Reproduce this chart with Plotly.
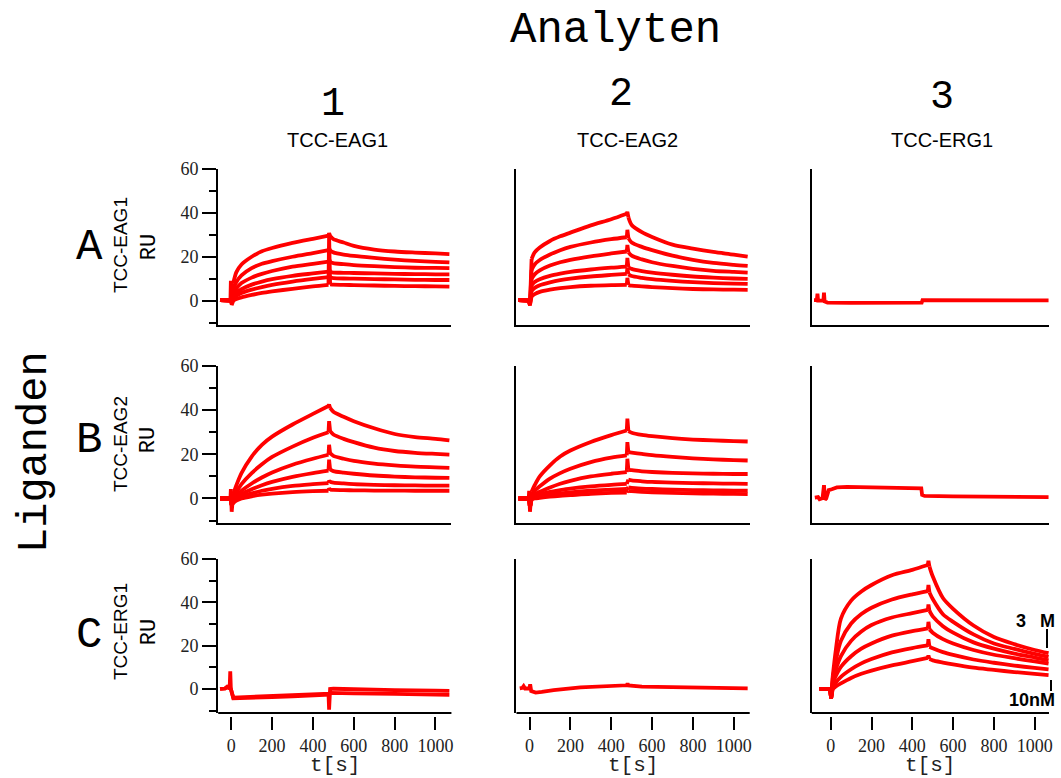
import plotly.graph_objects as go

# ---------------- data ----------------
# shared time grid (s) for the kinetic panels
T = [-55, -4, -2, 2, 10, 25, 50, 100, 150, 200, 300, 400, 476, 479, 484,
     500, 550, 600, 700, 800, 900, 1000, 1068]

A1 = [
    [0.3, 0.3, 0, -1, 8, 13, 16.5, 20, 22.5, 24, 26.3, 28.2, 29.6, 30.8, 29.5, 28, 26.5, 25, 23.3, 22.4, 21.9, 21.5, 21.2],
    [0.3, 0.3, 0, -1, 5, 8.5, 11.5, 14.8, 16.8, 18, 20, 21.7, 23, 24, 22.8, 22, 21, 20.4, 19.5, 18.7, 18.1, 17.7, 17.4],
    [0.3, 0.3, 0, -1, 3, 5.5, 8, 10.5, 12.2, 13.5, 15.5, 16.8, 17.8, 19, 17.6, 17.1, 16.6, 16.2, 15.7, 15.3, 15.0, 14.9, 14.8],
    [0.3, 0.3, 0, -1, 2, 3.5, 5.2, 7.3, 8.7, 9.8, 11.3, 12.4, 13.2, 14.5, 13.0, 12.8, 12.7, 12.6, 12.4, 12.2, 12.1, 12.0, 12.0],
    [0.3, 0.3, 0, -1, 1, 2.2, 3.5, 5, 6.2, 7.2, 8.7, 9.9, 10.7, 11.5, 10.5, 10.3, 10.1, 10.0, 9.8, 9.7, 9.5, 9.4, 9.4],
    [0.3, 0.3, 9, -2, 0, 0.7, 1.5, 2.6, 3.5, 4.2, 5.4, 6.5, 7.2, 30, 7.4, 7.3, 7.2, 7.1, 6.9, 6.7, 6.6, 6.5, 6.4],
]
A2 = [
    [0.3, 0.3, 0, -2, 19, 22, 24.2, 27.2, 29.3, 31, 34.3, 37.1, 39.6, 40.5, 38, 34.5, 31.2, 29, 25.5, 23.7, 22.2, 21, 20.1],
    [0.3, 0.3, 0, -2, 14, 16.5, 18.5, 21, 23, 24.5, 26.5, 28, 28.9, 32.3, 28.5, 26.5, 24.5, 23, 20.5, 18.6, 17.2, 16.3, 15.8],
    [0.3, 0.3, 0, -2, 10, 12, 13.8, 16, 17.5, 18.6, 20.2, 21.5, 22.4, 25.4, 22, 20.5, 18.8, 17.5, 15.8, 14.5, 13.6, 13.1, 12.8],
    [0.3, 0.3, 0, -2, 7, 8.5, 9.8, 11.3, 12.3, 13.1, 14.2, 15, 15.5, 19.5, 15.2, 14.5, 13.5, 12.8, 11.8, 11, 10.5, 10.1, 9.9],
    [0.3, 0.3, 0, -2, 4.5, 5.8, 7, 8.3, 9.3, 10, 11, 11.7, 12.2, 15, 12, 11.2, 10.4, 9.8, 9, 8.4, 8, 7.8, 7.6],
    [0.3, 0.3, 0, -2, 2, 3, 4, 5, 5.7, 6.2, 6.8, 7.1, 7.2, 10.4, 7.1, 6.8, 6.5, 6.2, 5.7, 5.3, 5.1, 5, 4.9],
]
B1 = [
    [0, 0, 4.3, -6, 2, 6, 11.5, 19, 24.3, 28, 33.5, 38.3, 41.9, 42.5, 41, 39.3, 37, 35, 31.8, 29.2, 27.8, 27, 26.3],
    [0, 0, 0, -3, 1, 3, 6.5, 11.5, 15.5, 18.8, 23.5, 27.5, 30, 35, 30.5, 29, 27, 25.5, 23, 21.5, 20.7, 20.2, 19.9],
    [0, 0, 0, -3, 0, 1.5, 3.5, 6.8, 9.5, 11.8, 15.3, 18, 19.8, 24.3, 20.5, 19.3, 18, 17, 15.8, 15, 14.4, 14.1, 13.9],
    [0, 0, 0, -3, -1, 0.5, 2, 4.2, 6, 7.5, 9.8, 11.5, 12.6, 17.6, 13.2, 12.4, 11.7, 11.2, 10.4, 9.9, 9.6, 9.4, 9.3],
    [0, 0, 0, -3, -1.5, -0.5, 0.8, 2.3, 3.5, 4.4, 5.7, 6.5, 7, 8, 7.5, 7.2, 6.8, 6.5, 6.2, 6, 5.9, 5.8, 5.8],
    [0, 0, 0, -3, -2, -1, 0, 1, 1.7, 2.2, 2.9, 3.3, 3.5, 4.5, 4, 3.9, 3.8, 3.7, 3.6, 3.6, 3.5, 3.5, 3.5],
]
B2 = [
    [0, 0, 3.5, -6, 3, 6, 10, 15, 19, 21.7, 25.6, 28.7, 30.8, 36.2, 30.5, 29.8, 28.8, 28.2, 27.3, 26.7, 26.3, 26, 25.8],
    [0, 0, 0, -4, 2, 3.5, 5.5, 9, 11.5, 13.5, 16.5, 18.5, 19.5, 25.5, 21, 20.8, 20.2, 19.6, 18.8, 18.2, 17.7, 17.4, 17.2],
    [0, 0, 0, -4, 1, 2, 3, 5, 6.7, 8, 10, 11.2, 11.9, 18, 13.1, 12.8, 12.3, 12, 11.6, 11.4, 11.2, 11.1, 11.1],
    [0, 0, 0, -4, 0.5, 1, 1.8, 3, 3.8, 4.5, 5.5, 6.2, 6.6, 8, 8.5, 8.2, 7.8, 7.5, 7.2, 7, 6.8, 6.7, 6.6],
    [0, 0, 0, -4, 0, 0.5, 1, 1.8, 2.3, 2.8, 3.5, 4, 4.3, 5, 5, 4.8, 4.5, 4.3, 4, 3.8, 3.7, 3.6, 3.5],
    [0, 0, 0, -4, -0.5, 0, 0.3, 0.8, 1.2, 1.5, 2.1, 2.5, 2.7, 3.5, 3.5, 3.3, 3, 2.8, 2.5, 2.3, 2.2, 2.1, 2],
]
C3 = [
    [0, 0, -1, -4.3, 6, 18, 32.5, 40.8, 45, 48, 52.5, 55, 57.2, 59.2, 56.5, 52, 42, 37, 29.3, 24, 20.7, 18, 16.5],
    [0, 0, -1, -4.3, 5, 13, 22.2, 30.2, 34.6, 37.5, 41.3, 43.7, 45.2, 48, 44.5, 41.5, 34.5, 31, 25.2, 21, 18.5, 16.2, 14.8],
    [0, 0, -1, -4.3, 3.5, 9, 15.2, 22.2, 26.5, 29.5, 33, 35, 36.5, 39, 36, 33.5, 29, 26, 21.5, 18.6, 16.3, 14.5, 13.2],
    [0, 0, -1, -4.3, 2.5, 6, 10.2, 15.1, 18.6, 21, 24.6, 26.7, 28, 31, 27.5, 26, 23, 21, 18, 15.8, 14.2, 12.7, 11.7],
    [0, 0, -1, -4.3, 1, 3, 5.6, 9.1, 11.8, 13.8, 16.9, 18.9, 20.1, 23, 19.5, 18.8, 17, 15.7, 13.6, 12.1, 10.8, 9.7, 9],
    [0, 0, -1, -4.3, 0, 1.2, 2.6, 5.1, 7, 8.5, 10.9, 12.8, 14.3, 15.5, 13.8, 13.2, 12.2, 11.3, 9.8, 8.8, 7.8, 7, 6.4],
]

T_A3 = [-82, -68, -65, -62, -36, -33, -30, -16, 100, 300, 446, 450, 700, 900, 1068]
A3 = [[0.2, 0.2, 3.2, 0, 0, 3.6, -0.4, -0.9, -1, -0.8, -0.9, 0.2, 0.1, 0.1, 0.1]]

T_B3 = [-78, -62, -55, -40, -33, -28, -22, -10, 5, 30, 80, 200, 350, 444, 448, 460, 600, 800, 1068]
B3 = [[0.4, 0.6, -0.3, 0.2, 6.0, -0.5, 0, 3.8, 4.2, 5.0, 5.3, 5.0, 4.8, 4.6, 1.6, 1.2, 1.0, 0.8, 0.6]]

T_C1 = [-55, -30, -20, -8, -5, -2, 10, 100, 200, 300, 400, 470, 476, 479, 484, 500, 600, 800, 1000, 1068]
C1 = [
    [0, 0.2, 1.0, 0.2, 8.2, 0, -4.0, -3.7, -3.3, -3.0, -2.6, -2.3, -2.2, -9.6, 0, 0.1, -0.2, -0.5, -0.8, -0.9],
    [0, 0.2, 1.0, 0.2, 0.5, 0, -4.3, -4.2, -3.8, -3.4, -3.0, -2.7, -2.6, -2.6, -1.8, -1.8, -2.0, -2.3, -2.6, -2.7],
]

T_C2 = [-48, -35, -29, -22, 0, 3, 8, 30, 60, 118, 249, 400, 476, 480, 484, 550, 789, 1068]
C2 = [[0.3, 0.5, 1.3, 0.2, 0.3, 2.2, -1.0, -1.7, -1.4, -0.5, 0.7, 1.3, 1.7, 2.5, 1.6, 1.1, 0.6, 0.3]]

X_TICKS = [0, 200, 400, 600, 800, 1000]
Y_TICKS = [0, 20, 40, 60]
COL_NUMS = ["1", "2", "3"]
ANALYTES = ["TCC-EAG1", "TCC-EAG2", "TCC-ERG1"]
ROW_LETTERS = ["A", "B", "C"]
LIGANDS = ["TCC-EAG1", "TCC-EAG2", "TCC-ERG1"]

PANELS = {
    (0, 0): (T, A1), (0, 1): (T, A2), (0, 2): (T_A3, A3),
    (1, 0): (T, B1), (1, 1): (T, B2), (1, 2): (T_B3, B3),
    (2, 0): (T_C1, C1), (2, 1): (T_C2, C2), (2, 2): (T, C3),
}
KINETIC = {(0, 0), (0, 1), (1, 0), (1, 1), (2, 2)}
# segments of the shared grid: (start index, end index, line shape)
SEGMENTS = [(0, 4, "linear"), (4, 12, "spline"), (12, 14, "linear"), (14, 22, "spline")]

# ---------------- layout geometry ----------------
W, H = 1061, 778
COL_PX = [(218, 451), (516, 749), (811, 1048)]
ROW_PX = [(169, 325), (366, 523), (559, 713)]
X_RANGES = [[-64, 1078], [-64, 1078], [-93, 1070]]
Y_RANGE = [-11.1, 60]

MONO = "Liberation Mono, Courier New, monospace"
SANS = "Liberation Sans, Arial, sans-serif"
SERIF = "Liberation Serif, Times New Roman, serif"
RED = "#ff0000"


def px(x):
    return (x / 0.9953) / W


def py(y):
    yd = (y - 10) * H / 768.0
    return 1 - yd / H


fig = go.Figure()
layout = dict(
    width=W, height=H, margin=dict(l=0, r=0, t=0, b=0),
    paper_bgcolor="white", plot_bgcolor="white", showlegend=False,
)
shapes = []
annotations = []


def add_line(xs, ys, sx, shape="linear"):
    fig.add_trace(go.Scatter(
        x=xs, y=ys, mode="lines", xaxis="x" + sx, yaxis="y" + sx,
        line=dict(color=RED, width=3.8, shape=shape, smoothing=0.8),
        hoverinfo="skip"))


for r in range(3):
    for c in range(3):
        k = r * 3 + c + 1
        sx = "" if k == 1 else str(k)
        tt, curves = PANELS[(r, c)]
        for vals in curves:
            if (r, c) in KINETIC:
                for i0, i1, shp in SEGMENTS:
                    add_line(tt[i0:i1 + 1], vals[i0:i1 + 1], sx, shp)
            else:
                add_line(tt, vals, sx)
        xd = [px(COL_PX[c][0]), px(COL_PX[c][1])]
        yd = [py(ROW_PX[r][1]), py(ROW_PX[r][0])]
        xa = dict(domain=xd, range=X_RANGES[c], showgrid=False, zeroline=False,
                  fixedrange=True)
        if r < 2:
            xa.update(anchor="y" + sx, showline=True, linecolor="black",
                      linewidth=2, ticks="", showticklabels=False)
        else:
            xa.update(anchor="free", position=py(ROW_PX[r][1] + 3),
                      showline=False, ticks="outside", ticklen=13, tickwidth=2,
                      tickcolor="black", tickvals=X_TICKS,
                      ticktext=[str(v) for v in X_TICKS],
                      tickfont=dict(family=SERIF, size=18, color="#222"))
            shapes.append(dict(type="line", xref="x" + sx + " domain",
                               yref="y" + sx + " domain", x0=0, x1=1, y0=0, y1=0,
                               line=dict(color="black", width=2)))
            annotations.append(dict(text="t[s]", x=px((COL_PX[c][0] + COL_PX[c][1]) / 2),
                                    y=py(765), xref="paper", yref="paper",
                                    showarrow=False, xanchor="center", yanchor="middle",
                                    font=dict(family=MONO, size=21, color="#222")))
        ya = dict(domain=yd, range=Y_RANGE, showgrid=False, zeroline=False,
                  anchor="x" + sx, showline=True, linecolor="black", linewidth=2,
                  fixedrange=True)
        if c == 0:
            ya.update(ticks="outside", ticklen=14, tickwidth=2, tickcolor="black",
                      tickvals=Y_TICKS, ticktext=[str(v) for v in Y_TICKS],
                      tickfont=dict(family=SERIF, size=18, color="#222"),
                      minor=dict(tickvals=[-10, 10, 30, 50], ticks="outside",
                                 ticklen=7, tickwidth=2, tickcolor="black"))
        else:
            ya.update(ticks="", showticklabels=False)
        layout["xaxis" + sx] = xa
        layout["yaxis" + sx] = ya


def ann(text, x, y, family, size, angle=0, bold=False):
    if bold:
        text = "<b>" + text + "</b>"
    annotations.append(dict(text=text, x=px(x), y=py(y), xref="paper", yref="paper",
                            showarrow=False, xanchor="center", yanchor="middle",
                            textangle=angle, font=dict(family=family, size=size, color="black")))


ann("Analyten", 615, 30, MONO, 44)
ann("Liganden", 35, 452, MONO, 42, angle=-90)
for x, y, t in zip([333, 620, 941], [104, 94, 97], COL_NUMS):
    ann(t, x, y, MONO, 40)
for x, t in zip([337, 627, 941], ANALYTES):
    ann(t, x, 140, SANS, 20)
for y, t in zip([247, 440, 635], ROW_LETTERS):
    ann(t, 89, y, MONO, 44)
for y, t in zip([245, 444, 632], LIGANDS):
    ann(t, 120, y, SANS, 19, angle=-90)
for y in [247, 440, 632]:
    ann("RU", 149, y, MONO, 22, angle=-90)

# concentration labels in panel C3
ann("3", 1020, 621, SANS, 18, bold=True)
ann("M", 1047, 621, SANS, 18, bold=True)
ann("10nM", 1031, 700, SANS, 18, bold=True)
shapes.append(dict(type="line", xref="paper", yref="paper", x0=px(1046), x1=px(1046),
                   y0=py(629), y1=py(648), line=dict(color="black", width=2)))
shapes.append(dict(type="line", xref="paper", yref="paper", x0=px(1050), x1=px(1050),
                   y0=py(680), y1=py(691), line=dict(color="black", width=2)))

layout["shapes"] = shapes
layout["annotations"] = annotations
fig.update_layout(**layout)
fig.write_html("out.html")
